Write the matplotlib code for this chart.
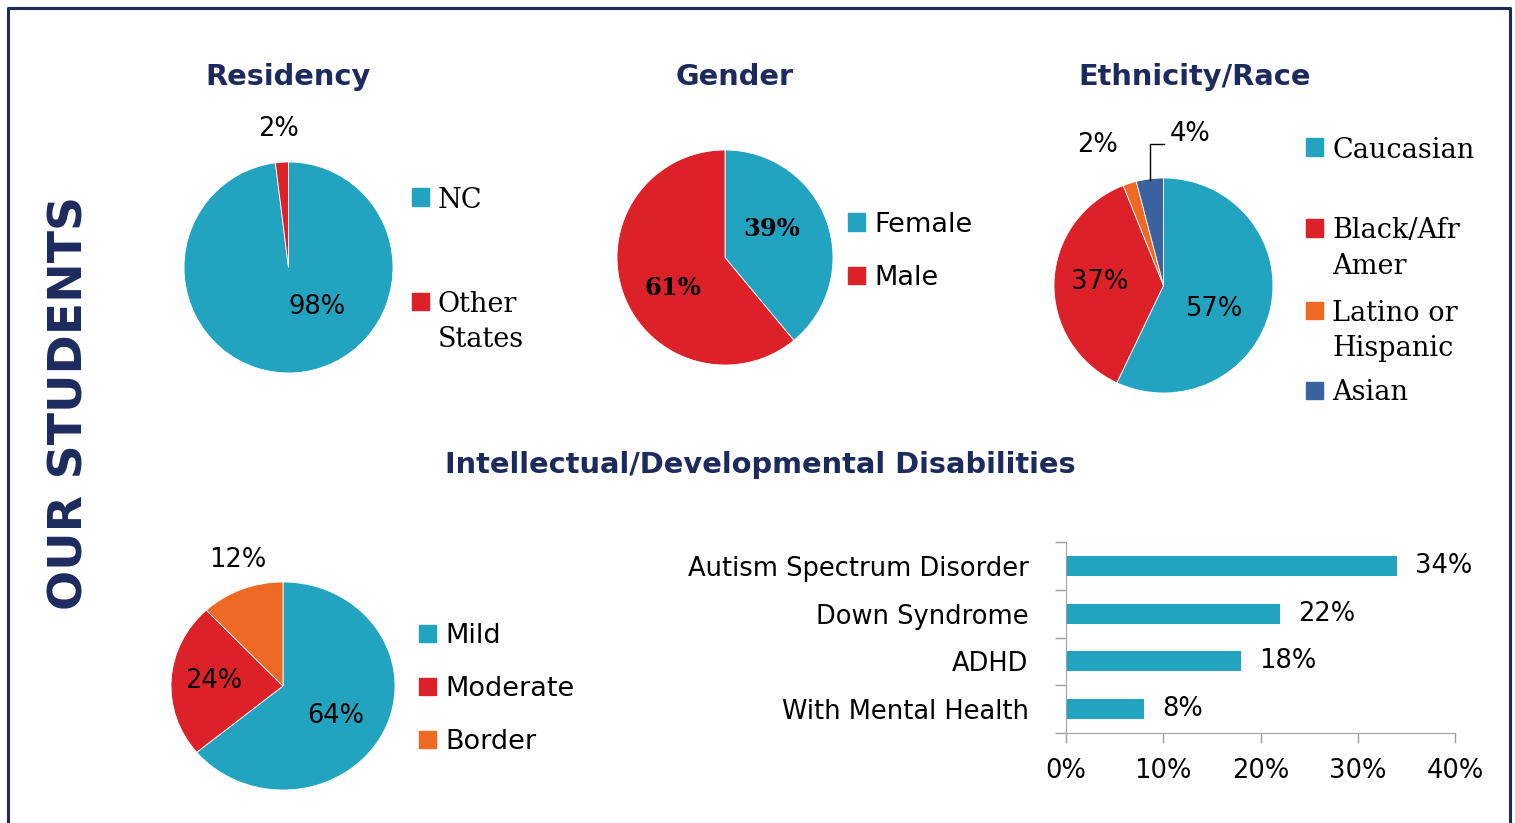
import matplotlib

matplotlib.use("Agg")
import matplotlib.pyplot as plt
from matplotlib.lines import Line2D
from matplotlib.patches import Rectangle

W, H = 1515, 823
NAVY = "#1c2a5e"
TEAL = "#22a4c0"
RED = "#dc2129"
ORANGE = "#ee6a24"
BLUE = "#3a62a0"

residency_labels = ["NC", "Other\nStates"]
residency_vals = [98, 2]
gender_labels = ["Female", "Male"]
gender_vals = [39, 61]
ethnicity_labels = ["Caucasian", "Black/Afr\nAmer", "Latino or\nHispanic", "Asian"]
ethnicity_vals = [57, 37, 2, 4]
level_labels = ["Mild", "Moderate", "Border"]
level_vals = [64, 24, 12]
dx_labels = ["Autism Spectrum Disorder", "Down Syndrome", "ADHD", "With Mental Health"]
dx_vals = [34, 22, 18, 8]

SERIF = ["DejaVu Serif"]
SANS = ["DejaVu Sans"]

fig = plt.figure(figsize=(W / 100, H / 100), dpi=100)


def box(x0, y0, x1, y1):
    return fig.add_axes([x0 / W, 1 - y1 / H, (x1 - x0) / W, (y1 - y0) / H])


def pie(bounds, vals, colors, texts, family, size, weight="normal"):
    ax = box(*bounds)
    ax.pie(vals, colors=colors, startangle=90, counterclock=False, radius=1,
           wedgeprops=dict(linewidth=0.6, edgecolor="white"))
    ax.set_aspect("auto")
    ax.set_xlim(-1, 1)
    ax.set_ylim(-1, 1)
    for v, (tx, ty) in zip(vals, texts):
        ax.text(tx, ty, f"{v}%", ha="center", va="center", fontsize=size,
                family=family, weight=weight, clip_on=False)
    return ax


def legend(x, ys, labels, colors, family, size, pitch=35, sq=17):
    for y, lab, c in zip(ys, labels, colors):
        fig.patches.append(Rectangle(((x) / W, 1 - (y + sq / 2) / H), sq / W, sq / H,
                                     transform=fig.transFigure, color=c))
        for i, line in enumerate(lab.split("\n")):
            fig.text((x + sq + 9) / W, 1 - (y + i * pitch) / H, line, ha="left",
                     va="center_baseline", fontsize=size, family=family)


def title(x, y, s):
    fig.text(x / W, 1 - y / H, s, ha="center", va="center", fontsize=20.8,
             weight="bold", color=NAVY, family=SANS)


# frame + side label
fig.add_artist(Line2D([8 / W, 8 / W, 1510 / W, 1510 / W], [0, 1 - 8 / H, 1 - 8 / H, 0],
                      transform=fig.transFigure, color=NAVY, lw=2.2))
fig.text(70 / W, 1 - 403 / H, "OUR STUDENTS", rotation=90, ha="center", va="center",
         fontsize=34, weight="bold", color=NAVY, family=SANS)

title(288, 77, "Residency")
title(735, 77, "Gender")
title(1195, 77, "Ethnicity/Race")
title(760, 465, "Intellectual/Developmental Disabilities")

# Residency
pie((184, 162, 393, 373), residency_vals, [TEAL, RED],
    [(0.27, -0.37), (-0.10, 1.31)], SANS, 18.5)
legend(412, [197, 301], residency_labels, [TEAL, RED], SERIF, 19.5)

# Gender
pie((617, 150, 833, 365), gender_vals, [TEAL, RED],
    [(0.435, 0.264), (-0.48, -0.28)], SERIF, 17.5, weight="bold")
legend(848, [222, 275], gender_labels, [TEAL, RED], SANS, 19.5)

# Ethnicity
ax = pie((1054, 178, 1273, 393), ethnicity_vals, [TEAL, RED, ORANGE, BLUE],
         [(0.454, -0.216), (-0.58, 0.03), (-0.60, 1.31), (0.24, 1.41)], SANS, 18.5)
ax.plot([-0.124, -0.124, 0.0], [0.98, 1.317, 1.317], color="black", lw=1, clip_on=False)
legend(1306, [147, 228, 310, 390], ethnicity_labels, [TEAL, RED, ORANGE, BLUE], SERIF, 19.5)

# Disability level
pie((171, 582, 395, 790), level_vals, [TEAL, RED, ORANGE],
    [(0.47, -0.29), (-0.62, 0.05), (-0.40, 1.21)], SANS, 18.5)
legend(419, [633, 686, 739], level_labels, [TEAL, RED, ORANGE], SANS, 19.5)

# Diagnoses bar chart
bx = box(1066, 542, 1455, 733)
ypos = list(range(len(dx_vals)))
bars = bx.barh(ypos, dx_vals, height=0.42, color=TEAL)
bx.bar_label(bars, labels=[f"{v}%" for v in dx_vals], padding=13, fontsize=18.5, family=SANS)
bx.set_xlim(0, 40)
bx.set_ylim(len(dx_vals) - 0.5, -0.5)
bx.set_yticks(ypos, dx_labels, fontsize=18.5, family=SANS)
bx.set_yticks([i - 0.5 for i in range(len(dx_vals) + 1)], minor=True)
bx.tick_params(axis="y", which="major", length=0, pad=27)
bx.tick_params(axis="y", which="minor", length=8, color="#a0a0a0", width=1)
bx.set_xticks(range(0, 41, 10), [f"{t}%" for t in range(0, 41, 10)], fontsize=18.5, family=SANS)
bx.tick_params(axis="x", length=7, color="#a0a0a0", width=1, pad=11)
for s in ("top", "right"):
    bx.spines[s].set_visible(False)
for s in ("left", "bottom"):
    bx.spines[s].set_color("#a0a0a0")

fig.savefig("out.png", dpi=100)
